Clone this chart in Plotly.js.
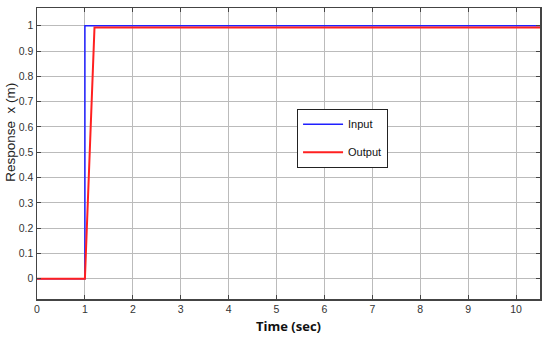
<!DOCTYPE html>
<html><head><meta charset="utf-8">
<script src="https://cdn.plot.ly/plotly-3.0.1.min.js"></script>
<style>html,body{margin:0;padding:0;background:#fff}</style>
</head><body>
<div id="chart" style="width:550px;height:342px"></div>
<script>
const inputTime = [0, 1, 1, 10.5];
const inputValue = [0, 0, 1, 1];
const outputTime = [0, 1, 1.2, 10.5];
const outputValue = [0, 0, 0.993, 0.993];
const xTicks = [0,1,2,3,4,5,6,7,8,9,10];
const yTicks = [0,0.1,0.2,0.3,0.4,0.5,0.6,0.7,0.8,0.9,1];

const traces = [
  {x: inputTime, y: inputValue, mode: 'lines', name: 'Input', legendgroup: 'a',
   line: {color: '#2020ff', width: 1.5}},
  {x: outputTime, y: outputValue, mode: 'lines', name: 'Output', legendgroup: 'b',
   line: {color: '#ff2020', width: 2}}
];
const axFont = {family: 'Liberation Sans, Arial, sans-serif', size: 10.5, color: '#333'};
const layout = {
  width: 550, height: 342,
  margin: {l: 37, r: 10, t: 8, b: 43},
  paper_bgcolor: '#fff', plot_bgcolor: '#fff',
  font: axFont,
  showlegend: true,
  legend: {x: 0.517, y: 0.654, xanchor: 'left', yanchor: 'top',
    bgcolor: '#fff', bordercolor: '#222', borderwidth: 1,
    traceorder: 'grouped', tracegroupgap: 9, itemwidth: 40,
    font: {family: 'Liberation Sans, Arial, sans-serif', size: 11, color: '#111'}},
  xaxis: {range: [0, 10.5], tickvals: xTicks, ticktext: xTicks.map(String),
    showgrid: true, gridcolor: '#bbb', gridwidth: 1, zeroline: false,
    showline: true, linecolor: '#444', linewidth: 1.5, mirror: 'ticks',
    ticks: 'inside', ticklen: 4, tickcolor: '#444',
    tickfont: axFont,
    title: {text: 'Time (sec)', standoff: 8,
      font: {family: 'Open Sans, sans-serif', size: 13, color: '#111', weight: 'bold'}}},
  yaxis: {range: [-0.08, 1.07], tickvals: yTicks, ticktext: yTicks.map(v => String(v)),
    showgrid: true, gridcolor: '#bbb', gridwidth: 1, zeroline: false,
    showline: true, linecolor: '#444', linewidth: 1.5, mirror: 'ticks',
    ticks: 'inside', ticklen: 4, tickcolor: '#444',
    tickfont: axFont},
  annotations: [{text: 'Response  x (m)', textangle: -90, xref: 'paper', yref: 'paper',
    x: -0.052, y: 0.574, xanchor: 'center', yanchor: 'middle', showarrow: false,
    font: {family: 'Liberation Sans, Arial, sans-serif', size: 13.5, color: '#222'}}]
};
Plotly.newPlot('chart', traces, layout, {displayModeBar: false, staticPlot: true});
</script>
</body></html>
